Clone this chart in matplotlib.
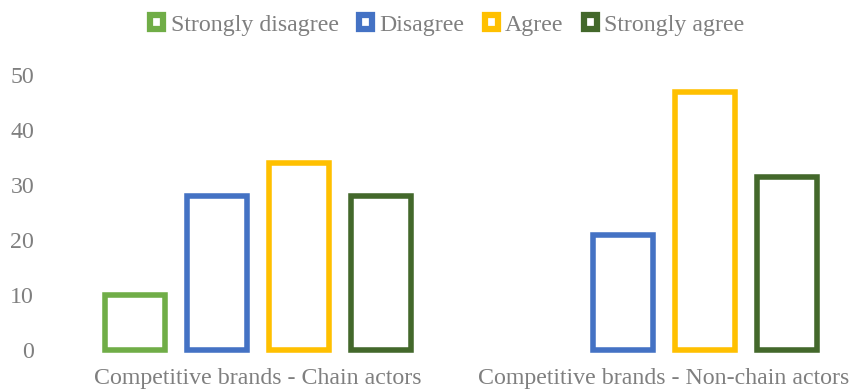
import numpy as np
import matplotlib
matplotlib.use('Agg')
import matplotlib.pyplot as plt
from matplotlib.patches import Patch

categories = ["Competitive brands - Chain actors", "Competitive brands - Non-chain actors"]
series = ["Strongly disagree", "Disagree", "Agree", "Strongly agree"]
strongly_disagree = [10, np.nan]
disagree = [28, 21]
agree = [34, 47]
strongly_agree = [28, 31.5]
colors = ["#70AD47", "#4472C4", "#FFC000", "#43682B"]
yticks = [0, 10, 20, 30, 40, 50]

plt.rcParams['font.family'] = ['Liberation Serif', 'DejaVu Serif']
grey = "#7F7F7F"
fs = 17.2

fig = plt.figure(figsize=(8.52, 3.92), dpi=100)
ax = fig.add_axes([55 / 852, 42 / 392, 797 / 852, 275 / 392])

x = np.arange(len(categories))
pitch = 0.202
width = 0.150
values = [strongly_disagree, disagree, agree, strongly_agree]
for i, (name, vals, c) in enumerate(zip(series, values, colors)):
    pos = x + (i - 1.5) * pitch
    ax.bar(pos, vals, width=width, facecolor='white', edgecolor=c,
           linewidth=4.0, clip_on=False, label=name)

ax.set_xlim(-0.5, 1.463)
ax.set_ylim(0, 50)
ax.set_yticks(yticks)
ax.set_xticks(x)
ax.set_xticklabels(categories)
for s in ax.spines.values():
    s.set_visible(False)
ax.tick_params(axis='both', length=0, labelsize=fs, labelcolor=grey)
ax.tick_params(axis='y', pad=15)
ax.tick_params(axis='x', pad=13)

handles = [Patch(facecolor='white', edgecolor=c, linewidth=4.5) for c in colors]
fig.legend(handles, series, loc='center', bbox_to_anchor=(0.525, 1 - 25 / 392),
           ncol=4, frameon=False, fontsize=fs, labelcolor=grey,
           handlelength=0.55, handleheight=0.55, handletextpad=0.3,
           columnspacing=0.85)

fig.savefig('out.png', dpi=100)
